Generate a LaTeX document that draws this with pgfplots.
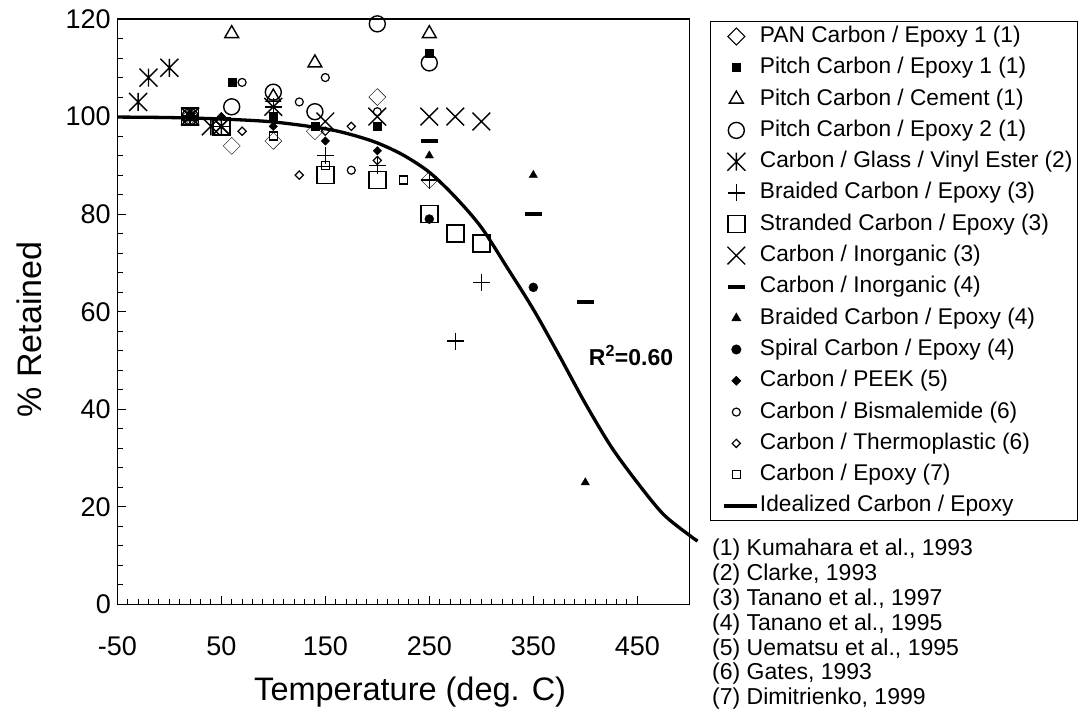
\documentclass[border=0pt]{standalone}
\usepackage{fontspec}
\setmainfont{Liberation Sans}
\usepackage{pgfplots}
\pgfplotsset{compat=1.18}
\usetikzlibrary{plotmarks}

\pgfdeclareplotmark{xast}{%
  \pgfpathmoveto{\pgfqpoint{0pt}{\pgfplotmarksize}}\pgfpathlineto{\pgfqpoint{0pt}{-\pgfplotmarksize}}%
  \pgfpathmoveto{\pgfqpoint{-\pgfplotmarksize}{-\pgfplotmarksize}}\pgfpathlineto{\pgfqpoint{\pgfplotmarksize}{\pgfplotmarksize}}%
  \pgfpathmoveto{\pgfqpoint{-\pgfplotmarksize}{\pgfplotmarksize}}\pgfpathlineto{\pgfqpoint{\pgfplotmarksize}{-\pgfplotmarksize}}%
  \pgfusepathqstroke}

\pgfplotsset{
  mk/.style={only marks, black, mark options={solid, line width=1.4pt, black}},
}

\begin{document}
\begin{tikzpicture}
\useasboundingbox (0pt,0pt) rectangle (1083pt,712pt);
\begin{axis}[
  at={(117.3pt,107.5pt)}, anchor=south west,
  scale only axis, width=572pt, height=585.5pt,
  xmin=-50, xmax=500, ymin=0, ymax=120,
  clip=false,
  axis line style={line width=1.3pt},
  tick align=inside, tick pos=left,
  xtick={-50,50,150,250,350,450},
  xticklabels={-50,50,150,250,350,450},
  minor x tick num=9,
  ytick={0,20,40,60,80,100,120},
  yticklabels={0,20,40,60,80,100,120},
  minor y tick num=4,
  major tick length=9pt, minor tick length=6pt,
  every tick/.style={line width=1pt, black},
  tick label style={font=\fontsize{27}{30}\selectfont},
  xticklabel style={yshift=-29pt},
  yticklabel style={xshift=-3pt},
  xlabel={Temperature (deg. C)},
  ylabel={\% Retained},
  label style={font=\fontsize{32.5}{36}\selectfont},
  xlabel style={at={(axis description cs:0.512,-0.149)}, anchor=center},
  ylabel style={at={(axis description cs:-0.153,0.47)}, anchor=center, font=\fontsize{34}{38}\selectfont},
  legend style={at={(axis description cs:1.0365,0.9966)}, anchor=north west,
    draw=black, line width=1pt, inner xsep=3pt, inner ysep=2pt,
    font=\fontsize{22.7}{25}\selectfont, row sep=5.3pt,
    nodes={inner sep=2pt, text height=17pt, text depth=5pt}},
  legend cell align=left,
  legend image code/.code={\path (0pt,0pt); \draw[mark repeat=2,mark phase=2,#1] plot coordinates {(9pt,0pt) (21pt,0pt) (41pt,0pt)};},
]
% 1 PAN Carbon / Epoxy 1 (1)
\addplot[mk, mark=square, mark size=6pt, mark options={rotate=45}] coordinates {
(20,100) (60,94) (100,95) (140,97) (200,104) (250,87)};
\addlegendentry{PAN Carbon / Epoxy 1 (1)}
% 2 Pitch Carbon / Epoxy 1 (1)
\addplot[mk, mark=square*, mark size=4pt, mark options={fill=black}] coordinates {
(20,100) (60,107) (100,100) (140,98) (200,98) (250,113)};
\addlegendentry{Pitch Carbon / Epoxy 1 (1)}
% 3 Pitch Carbon / Cement (1)
\addplot[mk, mark=triangle, mark size=8pt] coordinates {
(20,100) (60,117) (100,104) (140,111) (250,117)};
\addlegendentry{Pitch Carbon / Cement (1)}
% 4 Pitch Carbon / Epoxy 2 (1)
\addplot[mk, mark=o, mark size=8pt] coordinates {
(20,100) (60,102) (100,105) (140,101) (200,119) (250,111)};
\addlegendentry{Pitch Carbon / Epoxy 2 (1)}
% 5 Carbon / Glass / Vinyl Ester (2)
\addplot[mk, mark=xast, mark size=9pt] coordinates {
(-30,103) (-20,108) (0,110) (20,100) (40,98) (50,98)};
\addlegendentry{Carbon / Glass / Vinyl Ester (2)}
% 6 Braided Carbon / Epoxy (3)
\addplot[mk, mark=+, mark size=8.5pt] coordinates {
(20,100) (50,98) (100,102) (150,92) (200,90) (250,87) (275,54) (300,66)};
\addlegendentry{Braided Carbon / Epoxy (3)}
% 7 Stranded Carbon / Epoxy (3)
\addplot[mk, mark=square, mark size=8.5pt] coordinates {
(20,100) (50,98) (150,88) (200,87) (250,80) (275,76) (300,74)};
\addlegendentry{Stranded Carbon / Epoxy (3)}
% 8 Carbon / Inorganic (3)
\addplot[mk, mark=x, mark size=12.5pt] coordinates {
(20,100) (50,98) (100,102) (150,99) (200,100) (250,100) (275,100) (300,99)};
\addlegendentry{Carbon / Inorganic (3)}
% 9 Carbon / Inorganic (4)
\addplot[mk, mark=-, mark size=8.5pt, mark options={line width=4pt}] coordinates {
(20,100) (250,95) (350,80) (400,62)};
\addlegendentry{Carbon / Inorganic (4)}
% 10 Braided Carbon / Epoxy (4)
\addplot[mk, mark=triangle*, mark size=4.8pt, mark options={fill=black}] coordinates {
(20,100) (250,92) (350,88) (400,25)};
\addlegendentry{Braided Carbon / Epoxy (4)}
% 11 Spiral Carbon / Epoxy (4)
\addplot[mk, mark=*, mark size=4.5pt, mark options={fill=black}] coordinates {
(20,100) (250,79) (350,65)};
\addlegendentry{Spiral Carbon / Epoxy (4)}
% 12 Carbon / PEEK (5)
\addplot[mk, mark=square*, mark size=3pt, mark options={rotate=45, fill=black}] coordinates {
(20,100) (50,100) (100,98) (150,95) (200,93)};
\addlegendentry{Carbon / PEEK (5)}
% 13 Carbon / Bismalemide (6)
\addplot[mk, mark=o, mark size=4pt, mark options={line width=1.2pt}] coordinates {
(20,100) (70,107) (125,103) (150,108) (175,89) (200,101)};
\addlegendentry{Carbon / Bismalemide (6)}
% 14 Carbon / Thermoplastic (6)
\addplot[mk, mark=square, mark size=2.9pt, mark options={rotate=45, line width=1.2pt}] coordinates {
(20,100) (70,97) (125,88) (150,97) (175,98) (200,91)};
\addlegendentry{Carbon / Thermoplastic (6)}
% 15 Carbon / Epoxy (7)
\addplot[mk, mark=square, mark size=4pt, mark options={line width=1.2pt}] coordinates {
(20,100) (100,96) (150,90) (225,87)};
\addlegendentry{Carbon / Epoxy (7)}
% 16 Idealized Carbon / Epoxy
\addplot[black, line width=3.3pt, smooth, no marks] coordinates {
(-50,99.9) (0,99.8) (50,99.5) (100,98.9) (150,97.5) (175,96.3) (200,94.6)
(225,92.1) (250,88.6) (275,83.5) (300,77.3) (325,69) (350,60.5) (375,51)
(400,41.2) (425,32.3) (450,25) (475,18.5) (500,14.2) (508,13)};
\addlegendentry{Idealized Carbon / Epoxy}

\node[font=\bfseries\fontsize{23}{25}\selectfont] at (axis cs:444,51) {R\textsuperscript{2}=0.60};
\end{axis}
\node[anchor=north west, align=left, inner sep=0pt, font=\fontsize{23}{24.8}\selectfont] at (712pt,173pt)
{(1) Kumahara et al., 1993\\(2) Clarke, 1993\\(3) Tanano et al., 1997\\(4) Tanano et al., 1995\\(5) Uematsu et al., 1995\\(6) Gates, 1993\\(7) Dimitrienko, 1999};
\end{tikzpicture}
\end{document}
